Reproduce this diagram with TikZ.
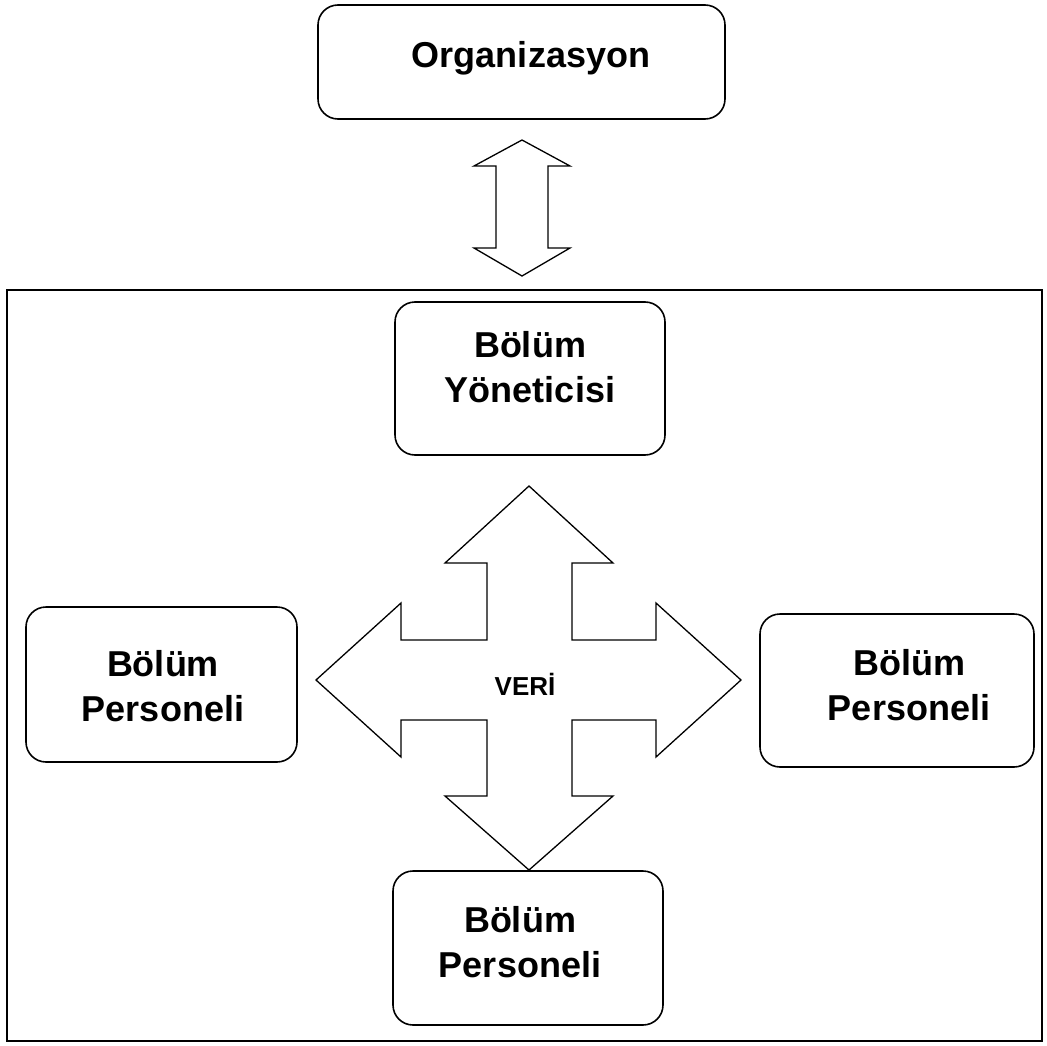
\documentclass[tikz,border=0pt]{standalone}
\usepackage{fontspec}
\setmainfont{Liberation Sans}
\begin{document}
\begin{tikzpicture}[x=1pt,y=-1pt,
  box/.style={draw, line width=1.6pt, rounded corners=20pt, inner sep=0pt},
  lbl/.style={font=\fontsize{36}{45}\selectfont\bfseries, align=center, inner sep=0pt},
  small/.style={font=\fontsize{26}{30}\selectfont\bfseries, inner sep=0pt},
  blockarrow/.style={draw, line width=1.3pt, line join=miter, fill=white}]
\useasboundingbox (0,0) rectangle (1047,1046);

% department frame
\node[draw, line width=1.6pt, inner sep=0pt, minimum width=1035pt, minimum height=751pt]
  (dept) at (524.5,665.5) {};

% boxes
\node[box, minimum width=407pt, minimum height=114pt] (org) at (521.5,62) {};
\node[box, minimum width=270pt, minimum height=153pt] (yon) at (530,378.5) {};
\node[box, minimum width=271pt, minimum height=155pt] (perL) at (161.5,684.5) {};
\node[box, minimum width=274pt, minimum height=153pt] (perR) at (897,690.5) {};
\node[box, minimum width=270pt, minimum height=154pt] (perB) at (528,948) {};

% labels
\node[lbl] (orgT) at (531,58) {Organizasyon};
\node[lbl] (yonT) at (530,367) {Bölüm\\Yöneticisi};
\node[lbl] (perLT) at (163,686) {Bölüm\\Personeli};
\node[lbl] (perRT) at (909,685) {Bölüm\\Personeli};
\node[lbl] (perBT) at (520,942) {Bölüm\\Personeli};

% two-way block arrow between organisation and department
\coordinate (link) at (522,208);
\begin{scope}[shift={(link)}]
  \draw[blockarrow] (0,-68) -- (48,-42) -- (26,-42) -- (26,40) -- (48,40) -- (0,68)
    -- (-48,40) -- (-26,40) -- (-26,-42) -- (-48,-42) -- cycle;
\end{scope}

% four-way data arrow
\coordinate (hub) at (529,680);
\begin{scope}[shift={(hub)}]
  \draw[blockarrow] (0,-194) -- (84,-117) -- (43,-117) -- (43,-40) -- (127,-40)
    -- (127,-77) -- (212,0) -- (127,77) -- (127,40) -- (43,40) -- (43,116)
    -- (84,116) -- (0,190) -- (-84,116) -- (-42,116) -- (-42,40) -- (-128,40)
    -- (-128,77) -- (-213,0) -- (-128,-77) -- (-128,-40) -- (-42,-40)
    -- (-42,-117) -- (-84,-117) -- cycle;
\end{scope}
\node[small, anchor=base] (veri) at (525,695) {VERİ};
\end{tikzpicture}
\end{document}
